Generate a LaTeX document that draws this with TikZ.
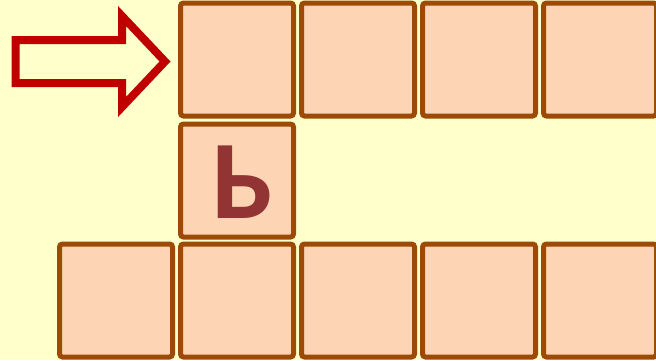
\documentclass[tikz,border=0pt]{standalone}
\usepackage{fontspec}
\usepackage{xcolor}
\usepackage{tikz}
\usetikzlibrary{positioning}
\newfontfamily\letterfont{Carlito}
\definecolor{wdBack}{HTML}{FFFFCC}
\definecolor{wdCell}{HTML}{FDD5B4}
\definecolor{wdEdge}{HTML}{9C4A06}
\definecolor{wdLetter}{HTML}{933434}
\definecolor{wdArrow}{HTML}{C00000}
\tikzset{
  cellbox/.style={
    draw=wdEdge, fill=wdCell, line width=5pt, rounded corners=3pt,
    minimum size=113pt, inner sep=0pt
  },
  letter/.style={
    text=wdLetter, inner sep=0pt,
    font=\letterfont\bfseries\fontsize{112}{112}\selectfont
  },
  pointer/.style={draw=wdArrow, fill=wdBack, line width=8pt, miter limit=10}
}

\begin{document}
\begin{tikzpicture}[x=1pt, y=-1pt]
  \fill[wdBack] (0,0) rectangle (656,360);
  \useasboundingbox (0,0) rectangle (656,360);
  % top row
  \foreach \i/\x in {1/237, 2/358, 3/479, 4/600}{
    \node[cellbox] (top\i) at (\x,59.5) {};
  }
  % middle cell with the letter
  \node[cellbox] (mid1) at (237,180.5) {};
  \node[letter, anchor=base] (sign) at ([xshift=5pt, yshift=-37.5pt]mid1.center) {Ь};
  % bottom row
  \foreach \i/\x in {1/116, 2/237, 3/358, 4/479, 5/600}{
    \node[cellbox] (bot\i) at (\x,300.5) {};
  }
  % arrow towards the first cell
  \draw[pointer] (15.5,40) -- (122,40) -- (122,16) -- (165,61.5)
    -- (122,107) -- (122,83) -- (15.5,83) -- cycle;
\end{tikzpicture}
\end{document}
